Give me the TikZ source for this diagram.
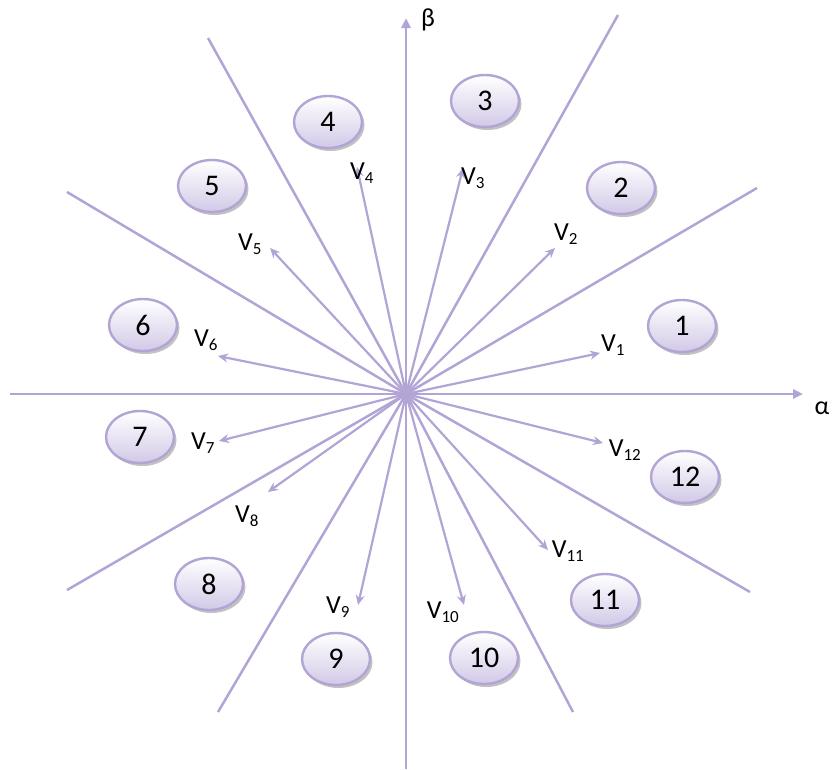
\documentclass[tikz,border=0pt]{standalone}
\usepackage{fontspec}
\setmainfont{Carlito}
\usetikzlibrary{arrows.meta,shadows,shapes.geometric}
\definecolor{lav}{RGB}{178,164,212}
\definecolor{lavlight}{RGB}{210,201,231}
\tikzset{
  axis/.style={draw=lav,line width=2.8pt,-{Triangle[length=10pt,width=9pt]}},
  sector/.style={draw=lav,line width=2.5pt},
  vec/.style={draw=lav,line width=2.2pt,-{Stealth[length=10pt,width=9pt]}},
  region/.style={ellipse,minimum width=68pt,minimum height=52pt,inner sep=0pt,
    draw=lav,line width=2.4pt,top color=white,bottom color=lavlight,
    drop shadow={shadow xshift=2.5pt,shadow yshift=-3pt,fill=black!40,opacity=0.6},
    font=\fontsize{30}{30}\selectfont},
  vlab/.style={font=\fontsize{26}{26}\selectfont,inner sep=0pt}
}
\newcommand{\vsub}[1]{V\textsubscript{\fontsize{17}{17}\selectfont #1}}
\begin{document}
\begin{tikzpicture}[x=1pt,y=-1pt]
\useasboundingbox (0,0) rectangle (833,769);
\coordinate (O) at (406,394);
% axes
\coordinate (xl) at (10,394);
\coordinate (xr) at (803,394);
\coordinate (yt) at (406,18);
\coordinate (yb) at (406,769);
\draw[axis] (xl) -- (xr);
\draw[axis] (yb) -- (yt);
\node[font=\fontsize{26}{26}\selectfont] (alpha) at (822,408) {α};
\node[font=\fontsize{26}{26}\selectfont] (beta) at (428,20) {β};
% sector lines
\foreach \i/\p in {a/{757,188},b/{618,15},c/{208,38},d/{67,192},e/{67,590},f/{218,712},g/{573,712},h/{750,592}}{
  \coordinate (s\i) at (\p);
  \draw[sector] (O) -- (s\i);
}
% vectors
\foreach \i/\p in {1/{600,353},2/{555,248},3/{463,168},4/{357,167},5/{270,248},6/{218,356},7/{219,441},8/{268,492},9/{358,605},10/{464,605},11/{548,550},12/{603,443}}{
  \coordinate (v\i) at (\p);
  \draw[vec] (O) -- (v\i);
}
% vector labels
\foreach \i/\p in {1/{613,345},2/{566,234},3/{473,178},4/{362,173},5/{250,244},6/{206,340},7/{203,443},8/{247,516},9/{338,607},10/{443,612},11/{568,551},12/{625,450}}{
  \node[vlab] (l\i) at (\p) {\vsub{\i}};
}
% region ellipses
\foreach \i/\p in {1/{682,326},2/{621,188},3/{485,101},4/{328,122},5/{212,186},6/{143,325},7/{140,437},8/{209,584},9/{336,659},10/{484,658},11/{605,600},12/{685,477}}{
  \node[region] (r\i) at (\p) {\i};
}
\end{tikzpicture}
\end{document}
